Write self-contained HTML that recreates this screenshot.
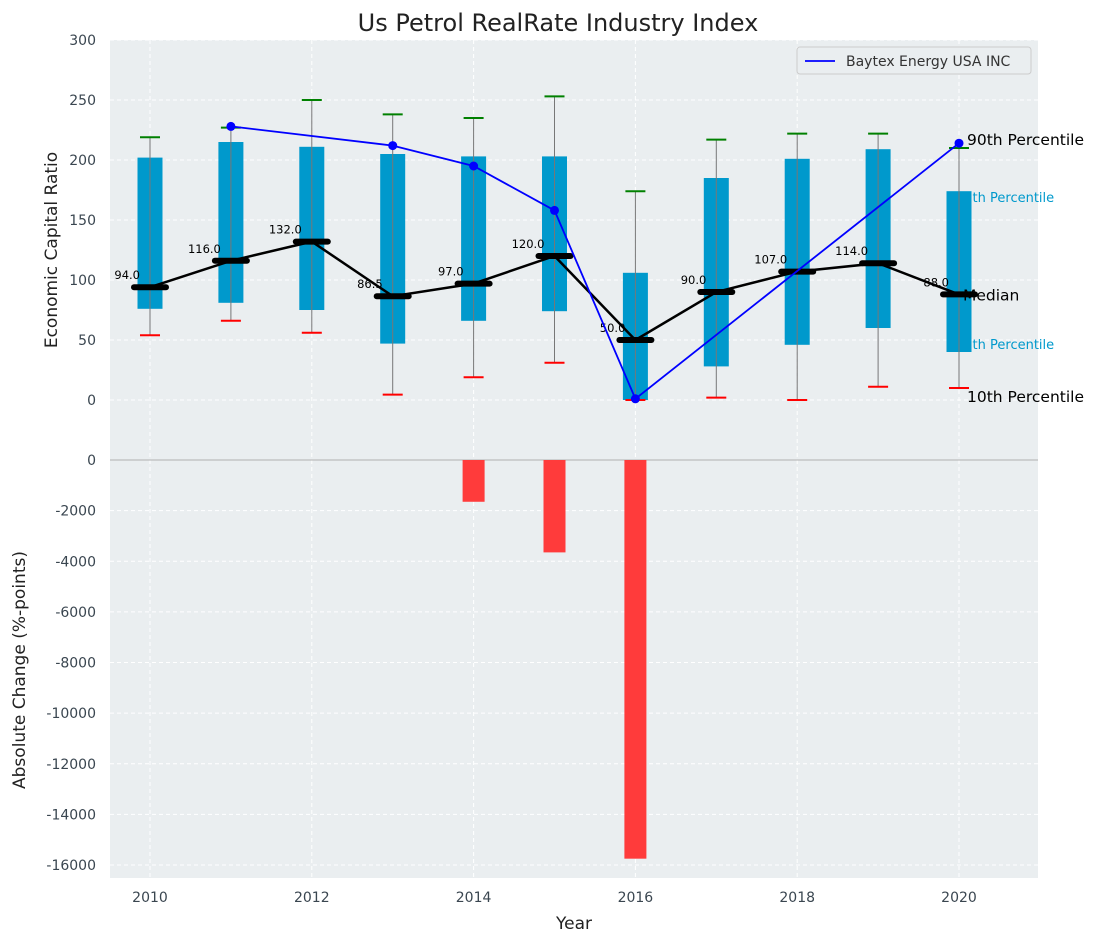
<!DOCTYPE html>
<html><head><meta charset="utf-8">
<style>
body{margin:0;background:#fff;}
svg{font-family:"DejaVu Sans","Liberation Sans",sans-serif;display:block;}
</style></head>
<body>
<svg id="chart" width="1102" height="942"></svg>
<script>
const years=[2010,2011,2012,2013,2014,2015,2016,2017,2018,2019,2020];
const p90=[219,227,250,238,235,253,174,217,222,222,210];
const p75=[202,215,211,205,203,203,106,185,201,209,174];
const medians=[94,116,132,86.5,97,120,50,90,107,114,88];
const p25=[76,81,75,47,66,74,0,28,46,60,40];
const p10=[54,66,56,4.5,19,31,0,2,0,11,10];
const companyYears=[2011,2013,2014,2015,2016,2020];
const companyValues=[228,212,195,158,1,214];
const changeYears=[2014,2015,2016];
const changeValues=[-1650,-3650,-15750];
const topTicks=[0,50,100,150,200,250,300];
const botTicks=[0,-2000,-4000,-6000,-8000,-10000,-12000,-14000,-16000];
const xTicks=[2010,2012,2014,2016,2018,2020];

const svg=document.getElementById('chart');
const NS='http://www.w3.org/2000/svg';
function el(tag,attrs,parent){const e=document.createElementNS(NS,tag);for(const k in attrs)e.setAttribute(k,attrs[k]);(parent||svg).appendChild(e);return e;}
const X0=110,X1=1038;
const xs=y=>150+(y-2010)*80.9;
const yt=v=>400-v*1.2;
const yb=v=>460-v*(405/16000);

let e=el('rect',{x:X0,y:40,width:X1-X0,height:420,fill:'#eaeef0'});

e=el('rect',{x:X0,y:460,width:X1-X0,height:418,fill:'#eaeef0'});


xTicks.forEach(t=>{el('line',{x1:xs(t),x2:xs(t),y1:40,y2:878,stroke:'#fff','stroke-dasharray':'4,3','stroke-width':1});});
topTicks.forEach(t=>{el('line',{x1:X0,x2:X1,y1:yt(t),y2:yt(t),stroke:'#fff','stroke-dasharray':'4,3'});
 const tx=el('text',{x:96,y:yt(t)+5,'text-anchor':'end','font-size':14,fill:'#3a4650'});tx.textContent=t;
 });
botTicks.forEach(t=>{el('line',{x1:X0,x2:X1,y1:yb(t),y2:yb(t),stroke:'#fff','stroke-dasharray':'4,3'});
 const tx=el('text',{x:96,y:yb(t)+5,'text-anchor':'end','font-size':14,fill:'#3a4650'});tx.textContent=t;
 });
xTicks.forEach(t=>{const tx=el('text',{x:xs(t),y:902,'text-anchor':'middle','font-size':14,fill:'#3a4650'});tx.textContent=t;
 });
el('line',{x1:X0,x2:X1,y1:460,y2:460,stroke:'#b0b0b0','stroke-width':1});

const last=years.length-1;
[[p75[last],'75th Percentile',11],[p25[last],'25th Percentile',-3]].forEach(([v,s,dy])=>{
 const tx=el('text',{x:xs(2020)-3,y:yt(v)+dy,'font-size':13,fill:'#0099cc'});tx.textContent=s;
 });

years.forEach((y,i)=>{
 const cx=xs(y);
 const b=el('rect',{x:cx-12.5,y:yt(p75[i]),width:25,height:yt(p25[i])-yt(p75[i]),fill:'#0099cc'});
 
 el('line',{x1:cx,x2:cx,y1:yt(p90[i]),y2:yt(p10[i]),stroke:'#777','stroke-width':1});
 el('line',{x1:cx-10,x2:cx+10,y1:yt(p90[i]),y2:yt(p90[i]),stroke:'green','stroke-width':2});
 el('line',{x1:cx-10,x2:cx+10,y1:yt(p10[i]),y2:yt(p10[i]),stroke:'red','stroke-width':2});
});
let d=years.map((y,i)=>(i?'L':'M')+xs(y)+','+yt(medians[i])).join(' ');
e=el('path',{d:d,fill:'none',stroke:'#000','stroke-width':2.5});

years.forEach((y,i)=>{
 const cx=xs(y);
 const m=el('line',{x1:cx-16,x2:cx+16,y1:yt(medians[i]),y2:yt(medians[i]),stroke:'#000','stroke-width':6,'stroke-linecap':'round'});
 
 const tx=el('text',{x:cx-10,y:yt(medians[i])-8,'text-anchor':'end','font-size':11.5,fill:'#000'});
 tx.textContent=medians[i].toFixed(1);
 
});
d=companyYears.map((y,i)=>(i?'L':'M')+xs(y)+','+yt(companyValues[i])).join(' ');
e=el('path',{d:d,fill:'none',stroke:'#0000ff','stroke-width':1.8});

companyYears.forEach((y,i)=>{const c=el('circle',{cx:xs(y),cy:yt(companyValues[i]),r:4.5,fill:'#0000ff'});
 });

[[p90[last],'90th Percentile',8,-3],[medians[last],'Median',4,6],[p10[last],'10th Percentile',8,14]].forEach(([v,s,dx,dy])=>{
 const tx=el('text',{x:xs(2020)+dx,y:yt(v)+dy,'font-size':15.5,fill:'#000'});tx.textContent=s;
 });

changeYears.forEach((y,i)=>{const v=changeValues[i];
 const r=el('rect',{x:xs(y)-11,y:yb(0),width:22,height:yb(v)-yb(0),fill:'#ff3b3b'});
 });

const lg=el('g',{});
el('rect',{x:797,y:47,width:234,height:27,rx:3,fill:'#eaeef0',stroke:'#ccc'},lg);
el('line',{x1:805,x2:835,y1:61,y2:61,stroke:'#0000ff','stroke-width':1.8},lg);
let t=el('text',{x:846,y:66,'font-size':14,fill:'#333'},lg);t.textContent='Baytex Energy USA INC';

t=el('text',{x:558,y:31,'text-anchor':'middle','font-size':24,fill:'#222'});t.textContent='Us Petrol RealRate Industry Index';

t=el('text',{x:574,y:929,'text-anchor':'middle','font-size':17,fill:'#222'});t.textContent='Year';

t=el('text',{x:0,y:0,'text-anchor':'middle','font-size':17,fill:'#222',transform:'translate(57,250) rotate(-90)'});t.textContent='Economic Capital Ratio';

t=el('text',{x:0,y:0,'text-anchor':'middle','font-size':17,fill:'#222',transform:'translate(25,670) rotate(-90)'});t.textContent='Absolute Change (%-points)';

</script>
</body></html>
